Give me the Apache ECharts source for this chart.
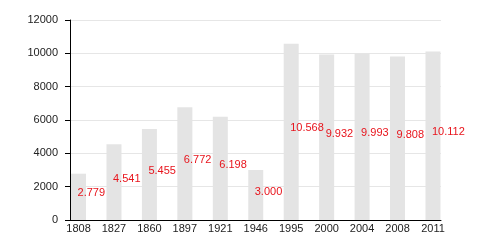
<!DOCTYPE html>
<html><head><meta charset="utf-8">
<script src="https://cdn.jsdelivr.net/npm/echarts@6/dist/echarts.min.js"></script>
<style>html,body{margin:0;padding:0;background:#fff}#c{width:480px;height:240px}</style>
</head><body><div id="c"></div>
<script>
const years = ['1808','1827','1860','1897','1921','1946','1995','2000','2004','2008','2011'];
const population = [2779, 4541, 5455, 6772, 6198, 3000, 10568, 9932, 9993, 9808, 10112];
const yTicks = [0, 2000, 4000, 6000, 8000, 10000, 12000];

const font = 'Liberation Sans, Arial, Helvetica, sans-serif';
const fmt = v => String(v).replace(/\B(?=(\d{3})+(?!\d))/g, '.');

const chart = echarts.init(document.getElementById('c'), null, {renderer: 'canvas'});
chart.setOption({
  animation: false,
  backgroundColor: '#ffffff',
  grid: [
    {left: 70, right: 39, top: 20, bottom: 20},
    {left: 60.8, right: 29.3, top: 20, bottom: 20}
  ],
  xAxis: [
    {gridIndex: 0, type: 'category', data: years, boundaryGap: true,
     axisLine: {show: true, lineStyle: {color: '#000', width: 1}},
     axisTick: {show: false}, axisLabel: {show: false}, splitLine: {show: false}},
    {gridIndex: 1, type: 'category', data: years, boundaryGap: true,
     axisLine: {show: false}, axisTick: {show: false},
     axisLabel: {show: true, color: '#222', fontSize: 11, fontFamily: font, margin: 3, interval: 0}}
  ],
  yAxis: [
    {gridIndex: 0, type: 'value', min: yTicks[0], max: yTicks[yTicks.length - 1], interval: 2000,
     axisLine: {show: true, lineStyle: {color: '#000', width: 1}},
     axisTick: {show: true, length: 5, lineStyle: {color: '#000'}},
     axisLabel: {color: '#222', fontSize: 11, fontFamily: font, margin: 12, formatter: v => String(v)},
     splitLine: {show: true, lineStyle: {color: '#e6e6e6', width: 1}}},
    {gridIndex: 1, type: 'value', min: yTicks[0], max: yTicks[yTicks.length - 1], interval: 2000, show: false,
     splitLine: {show: false}}
  ],
  series: [{
    type: 'bar', xAxisIndex: 1, yAxisIndex: 1,
    data: population, barWidth: 15,
    itemStyle: {color: '#e4e4e4'},
    label: {show: true, position: 'inside', align: 'left', offset: [-1, -3.5],
      color: '#e8141c', fontSize: 11, fontFamily: font,
      formatter: p => fmt(p.value)}
  }]
});
</script></body></html>
